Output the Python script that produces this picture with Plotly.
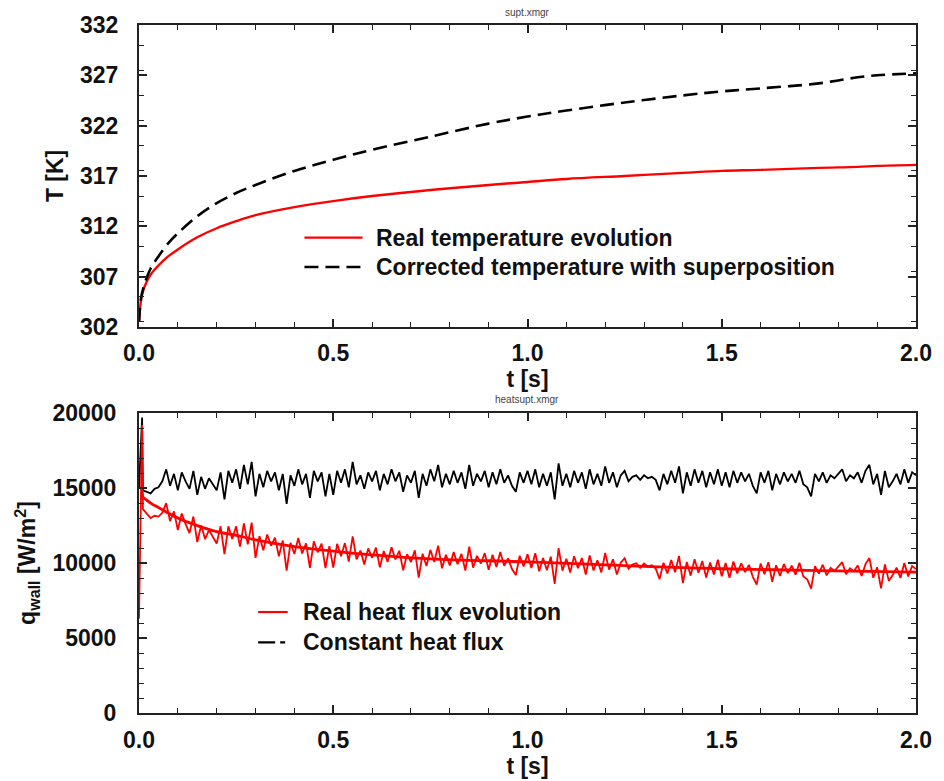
import plotly.graph_objects as go

W, H = 944, 781
ML, MR, MT, MB = 139, 16, 25, 54


def px(x):
    return (x - ML) / (W - ML - MR)


def py(y):
    return (H - MB - y) / (H - MT - MB)


FONT = "Liberation Sans, Arial, Helvetica, sans-serif"

# ---------------- top panel: temperature ----------------
t_temp = [0.0, 0.005, 0.01, 0.02, 0.03, 0.05, 0.075, 0.1, 0.15, 0.2, 0.25, 0.3, 0.4,
          0.5, 0.6, 0.75, 0.9, 1.0, 1.1, 1.25, 1.4, 1.5, 1.6, 1.75, 1.85, 1.9, 2.0]
T_real = [302.5, 304.6, 305.5, 306.5, 307.2, 308.1, 309.0, 309.7, 310.9, 311.8, 312.5,
          313.1, 313.9, 314.5, 315.0, 315.6, 316.1, 316.4, 316.7, 317.0, 317.3, 317.5,
          317.6, 317.8, 317.9, 318.0, 318.1]
T_corr = [302.5, 304.8, 305.7, 306.9, 307.8, 309.0, 310.3, 311.3, 313.0, 314.3, 315.3,
          316.1, 317.5, 318.6, 319.6, 320.9, 322.2, 322.9, 323.5, 324.3, 325.0, 325.4,
          325.7, 326.2, 326.8, 327.0, 327.2]

# ---------------- bottom panel: heat flux ----------------
t_flux_start = [0.0, 0.008]
q_real_start = [6300, 19200]
q_const_start = [15000, 19700]
flux_dt = 0.01  # sampling step of the flux signals after the start transient

q_real = [
    13600, 13300, 13000, 13150, 13100, 13350, 14000, 12800, 13450, 12200,
    13300, 12600, 12000, 13100, 11400, 12500, 11600, 12200, 11750, 11300,
    12450, 10600, 12450, 11600, 12450, 11100, 12650, 11250, 12700, 10350,
    11800, 10850, 11900, 11150, 11700, 10450, 11500, 9500, 11350, 10600,
    11670, 10640, 11310, 9680, 11450, 10720, 11290, 9660, 11130, 9700,
    11280, 10450, 11330, 10100, 11780, 10250, 10830, 9900, 10980, 10350,
    11030, 9710, 10800, 10080, 11060, 10240, 10820, 9510, 10590, 10070,
    10850, 9030, 10620, 9800, 10880, 10070, 11160, 9650, 10550, 9840,
    10730, 9920, 10610, 9500, 11100, 9690, 10480, 9970, 10660, 9550,
    10550, 9740, 10730, 9820, 10310, 9600, 9200, 10490, 9780, 10580,
    9670, 10660, 9450, 10340, 9530, 10420, 8610, 11000, 9490, 10280,
    9370, 10460, 9650, 10340, 9230, 10510, 9500, 10190, 9380, 10670,
    9560, 10250, 9240, 10030, 10320, 9610, 9900, 9990, 9680, 9970,
    9760, 9850, 9640, 8930, 10020, 9310, 10200, 9390, 10480, 8670,
    10070, 9160, 10250, 9350, 10140, 9040, 10030, 9230, 10220, 9120,
    10010, 9010, 10100, 9300, 9990, 9390, 9880, 9080, 8570, 9970,
    9260, 10060, 8750, 9850, 9140, 9940, 9330, 9830, 9220, 10020,
    9110, 8910, 8300, 9800, 9290, 9890, 9180, 9680, 9470, 9770,
    10060, 9260, 9650, 9450, 9840, 9140, 9930, 10330, 9020, 9720,
    8310, 9910, 8810, 9200, 9700, 9000, 10000, 9100, 9800, 9600,
]

q_const = [
    14850, 14750, 14650, 14950, 15050, 15450, 16250, 15150, 15950, 14850,
    16050, 15450, 14950, 16150, 14550, 15750, 14950, 15650, 15250, 14850,
    16050, 14250, 16150, 15350, 16250, 14950, 16550, 15250, 16750, 14450,
    15950, 15050, 16150, 15450, 16050, 14850, 15950, 13950, 15850, 15150,
    16250, 15250, 15950, 14350, 16150, 15450, 16050, 14450, 15950, 14550,
    16150, 15350, 16250, 15050, 16750, 15250, 15850, 14950, 16050, 15450,
    16150, 14850, 15950, 15250, 16250, 15450, 16050, 14750, 15850, 15350,
    16150, 14350, 15950, 15150, 16250, 15450, 16550, 15050, 15950, 15250,
    16150, 15350, 16050, 14950, 16550, 15150, 15950, 15450, 16150, 15050,
    16050, 15250, 16250, 15350, 15850, 15150, 14750, 16050, 15350, 16150,
    15250, 16250, 15050, 15950, 15150, 16050, 14250, 16650, 15150, 15950,
    15050, 16150, 15350, 16050, 14950, 16250, 15250, 15950, 15150, 16450,
    15350, 16050, 15050, 15850, 16150, 15450, 15750, 15850, 15550, 15850,
    15650, 15750, 15550, 14850, 15950, 15250, 16150, 15350, 16450, 14650,
    16050, 15150, 16250, 15350, 16150, 15050, 16050, 15250, 16250, 15150,
    16050, 15050, 16150, 15350, 16050, 15450, 15950, 15150, 14650, 16050,
    15350, 16150, 14850, 15950, 15250, 16050, 15450, 15950, 15350, 16150,
    15250, 15050, 14450, 15950, 15450, 16050, 15350, 15850, 15650, 15950,
    16250, 15450, 15850, 15650, 16050, 15350, 16150, 16550, 15250, 15950,
    14550, 16150, 15050, 15450, 15950, 15250, 16250, 15350, 16050, 15850,
]

t_fit = [0.008, 0.01, 0.02, 0.03, 0.05, 0.1, 0.15, 0.2, 0.25, 0.3, 0.4, 0.5, 0.6,
         0.75, 1.0, 1.25, 1.5, 1.75, 2.0]
q_fit = [14700, 14400, 14200, 14000, 13700, 13000, 12500, 12100, 11850, 11550, 11100,
         10800, 10550, 10280, 10080, 9830, 9620, 9500, 9400]

t_flux = t_flux_start + [round(flux_dt * (i + 1), 3) for i in range(len(q_real))]
q_real_all = q_real_start + q_real
q_const_all = q_const_start + q_const

RED = "#ff0000"
BLACK = "#000000"

fig = go.Figure()

# top
fig.add_trace(go.Scatter(x=t_temp, y=T_real, mode="lines", name="Real temperature evolution",
                         line=dict(color=RED, width=2.4, shape="spline"),
                         xaxis="x", yaxis="y", showlegend=False))
fig.add_trace(go.Scatter(x=t_temp, y=T_corr, mode="lines",
                         name="Corrected temperature with superposition",
                         line=dict(color=BLACK, width=2.6, dash="14px,7px", shape="spline"),
                         xaxis="x", yaxis="y", showlegend=False))

# bottom
fig.add_trace(go.Scatter(x=t_flux, y=q_const_all, mode="lines", name="Constant heat flux",
                         line=dict(color=BLACK, width=1.8),
                         xaxis="x2", yaxis="y2", showlegend=False))
fig.add_trace(go.Scatter(x=t_flux, y=q_real_all, mode="lines", name="Real heat flux evolution",
                         line=dict(color=RED, width=1.8),
                         xaxis="x2", yaxis="y2", showlegend=False))
fig.add_trace(go.Scatter(x=t_fit, y=q_fit, mode="lines", name="Real heat flux evolution (fit)",
                         line=dict(color=RED, width=2.8, shape="spline"),
                         xaxis="x2", yaxis="y2", showlegend=False))

tickfont = dict(family=FONT, size=23, color="#111111", weight="bold")
titlefont = dict(family=FONT, size=23, color="#111111", weight="bold")

common_axis = dict(showline=True, linecolor="#222222", linewidth=2, mirror="allticks",
                   ticks="inside", ticklen=8, tickwidth=1.6, tickcolor="#222222",
                   showgrid=False, zeroline=False, tickfont=tickfont)

xcommon = dict(range=[0, 2], dtick=0.5, tick0=0, tickformat=".1f",
               minor=dict(dtick=0.1, ticks="inside", ticklen=5, tickwidth=1.3,
                          tickcolor="#222222", showgrid=False),
               ticklabelstandoff=5, **common_axis)

fig.update_layout(
    width=W, height=H,
    margin=dict(l=ML, r=MR, t=MT, b=MB),
    paper_bgcolor="white", plot_bgcolor="white",
    font=dict(family=FONT, color="#111111"),
    showlegend=False,
    xaxis=dict(domain=[0, 1], anchor="y",
               title=dict(text="t [s]", font=titlefont, standoff=0), **xcommon),
    yaxis=dict(domain=[py(333), 1], anchor="x", range=[302, 332], dtick=5, tick0=302,
               tickformat="d",
               minor=dict(dtick=2.5, ticks="inside", ticklen=5, tickwidth=1.3,
                          tickcolor="#222222", showgrid=False),
               ticklabelstandoff=14,
               title=dict(text="T [K]", font=titlefont, standoff=10), **common_axis),
    xaxis2=dict(domain=[0, 1], anchor="y2",
                title=dict(text="t [s]", font=titlefont, standoff=0), **xcommon),
    yaxis2=dict(domain=[0, py(421)], anchor="x2", range=[0, 20000], dtick=5000, tick0=0,
                tickformat="d",
                minor=dict(dtick=1000, ticks="inside", ticklen=5, tickwidth=1.3,
                           tickcolor="#222222", showgrid=False),
                ticklabelstandoff=16,
                title=dict(text="q<sub>wall</sub> [W/m<sup>2</sup>]", font=titlefont,
                           standoff=10), **common_axis),
)

shapes = []
annotations = []

# small file-name titles
annotations.append(dict(text="supt.xmgr", x=px(533), y=py(12), xref="paper", yref="paper",
                        showarrow=False, font=dict(family=FONT, size=10, color="#444444"),
                        xanchor="center", yanchor="middle"))
annotations.append(dict(text="heatsupt.xmgr", x=px(533), y=py(407), xref="paper", yref="paper",
                        showarrow=False, font=dict(family=FONT, size=10, color="#444444"),
                        xanchor="center", yanchor="middle"))

legfont = dict(family=FONT, size=23, color="#111111", weight="bold")


def legend_item(x0, x1, y, text, tx, color, width, dash):
    shapes.append(dict(type="line", xref="paper", yref="paper", x0=px(x0), x1=px(x1),
                       y0=py(y), y1=py(y), line=dict(color=color, width=width, dash=dash)))
    annotations.append(dict(text=text, x=px(tx), y=py(y), xref="paper", yref="paper",
                            showarrow=False, font=legfont, xanchor="left", yanchor="middle"))


legend_item(307, 366, 242, "Real temperature evolution", 378, RED, 2.4, "solid")
legend_item(307, 366, 272, "Corrected temperature with superposition", 378, BLACK, 2.4,
            "14px,7px")
legend_item(260, 290, 624, "Real heat flux evolution", 303, RED, 2.2, "solid")
legend_item(260, 290, 655, "Constant heat flux", 303, BLACK, 2.2, "17px,5px,5px,20px")

fig.update_layout(shapes=shapes, annotations=annotations)

fig.write_html("out.html")
